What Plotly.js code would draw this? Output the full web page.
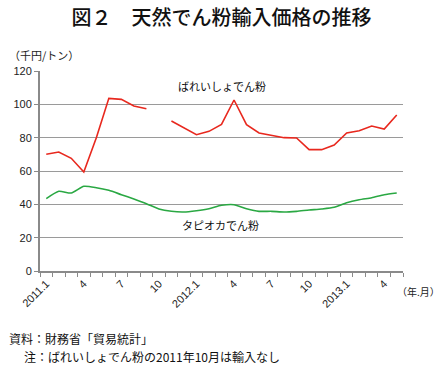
<!DOCTYPE html>
<html><head><meta charset="utf-8">
<script src="https://cdn.plot.ly/plotly-3.0.1.min.js"></script>
<style>html,body{margin:0;padding:0;background:#fff}#chart{width:443px;height:371px}</style>
</head><body><div id="chart"></div>
<script>
const months = ["2011.1","2011.2","2011.3","2011.4","2011.5","2011.6","2011.7","2011.8","2011.9","2011.10","2011.11","2011.12",
  "2012.1","2012.2","2012.3","2012.4","2012.5","2012.6","2012.7","2012.8","2012.9","2012.10","2012.11","2012.12",
  "2013.1","2013.2","2013.3","2013.4","2013.5"];
const potato = [70.0,71.4,67.6,59.4,80.0,103.6,103.0,99.0,97.4,null,90.0,86.0,81.8,83.8,88.0,102.6,87.8,82.8,81.6,80.0,79.8,72.8,72.8,75.6,82.8,84.2,87.0,85.2,93.6];
const tapioca = [43.4,47.8,46.8,50.8,50.0,48.4,45.8,43.2,40.4,37.2,35.8,35.4,36.2,37.4,39.4,39.8,37.4,35.8,35.8,35.4,35.8,36.6,37.2,38.2,41.0,42.8,44.0,45.8,46.8];
const tickMonths = ["2011.1","2011.4","2011.7","2011.10","2012.1","2012.4","2012.7","2012.10","2013.1","2013.4"];
const tickLabels = ["2011.1","4","7","10","2012.1","4","7","10","2013.1","4"];
const yTicks = [0,20,40,60,80,100,120];

const xi = months.map((m,i)=>i);
const tickIdx = tickMonths.map(m=>months.indexOf(m));
const jp = '"Noto Sans CJK JP", "Noto Sans", sans-serif';

const traces = [
  {x: xi, y: potato, mode:'lines', line:{color:'#e8281e', width:1.6}, connectgaps:false, hoverinfo:'skip'},
  {x: xi, y: tapioca, mode:'lines', line:{color:'#2aa843', width:1.6, shape:'spline', smoothing:0.6}, hoverinfo:'skip'}
];

const layout = {
  width:443, height:371,
  margin:{l:40, r:40, t:71, b:100},
  paper_bgcolor:'#fff', plot_bgcolor:'#fff',
  showlegend:false,
  font:{family:jp, color:'#222', size:11},
  title:{text:'図２　天然でん粉輸入価格の推移', font:{family:jp, size:20, color:'#111', weight:500}, x:0.5, xanchor:'center', y:0.952, yanchor:'middle'},
  xaxis:{
    range:[-0.5, months.length-0.5],
    tickmode:'array', tickvals:tickIdx, ticktext:tickLabels,
    tickangle:-45, ticks:'', showgrid:false, zeroline:false,
    showline:true, linecolor:'#8a8a8a', linewidth:2,
    tickfont:{family:'"Liberation Sans", Arial, sans-serif', size:11, color:'#222'},
    minor:{tick0:-0.5, dtick:1, ticks:'outside', ticklen:4, tickcolor:'#8a8a8a', tickwidth:1, showgrid:false}
  },
  yaxis:{
    range:[0,120], tickmode:'array', tickvals:yTicks,
    showgrid:true, gridcolor:'#9a9a9a', gridwidth:1, zeroline:false,
    showline:true, linecolor:'#8a8a8a', linewidth:2,
    ticks:'outside', ticklen:4, tickcolor:'#8a8a8a',
    tickfont:{family:'"Liberation Sans", Arial, sans-serif', size:11, color:'#222'}
  },
  annotations:[
    {text:'（千円/トン）', xref:'paper', yref:'paper', x:-0.09, y:1.08, xanchor:'left', yanchor:'middle', showarrow:false, font:{family:jp, size:11, color:'#222'}},
    {text:'ばれいしょでん粉', xref:'paper', yref:'paper', x:0.375, y:0.925, xanchor:'left', yanchor:'middle', showarrow:false, font:{family:jp, size:11, color:'#111'}},
    {text:'タピオカでん粉', xref:'paper', yref:'paper', x:0.386, y:0.23, xanchor:'left', yanchor:'middle', showarrow:false, font:{family:jp, size:11, color:'#111'}},
    {text:'（年.月）', xref:'paper', yref:'paper', x:1.108, y:-0.1, xanchor:'right', yanchor:'middle', showarrow:false, font:{family:jp, size:10, color:'#222'}},
    {text:'資料：財務省「貿易統計」', xref:'paper', yref:'paper', x:-0.09, y:-0.335, xanchor:'left', yanchor:'middle', showarrow:false, font:{family:jp, size:12, color:'#111'}},
    {text:'注：ばれいしょでん粉の2011年10月は輸入なし', xref:'paper', yref:'paper', x:-0.05, y:-0.425, xanchor:'left', yanchor:'middle', showarrow:false, font:{family:jp, size:12, color:'#111'}}
  ]
};
Plotly.newPlot('chart', traces, layout, {staticPlot:true, displayModeBar:false});
</script></body></html>
